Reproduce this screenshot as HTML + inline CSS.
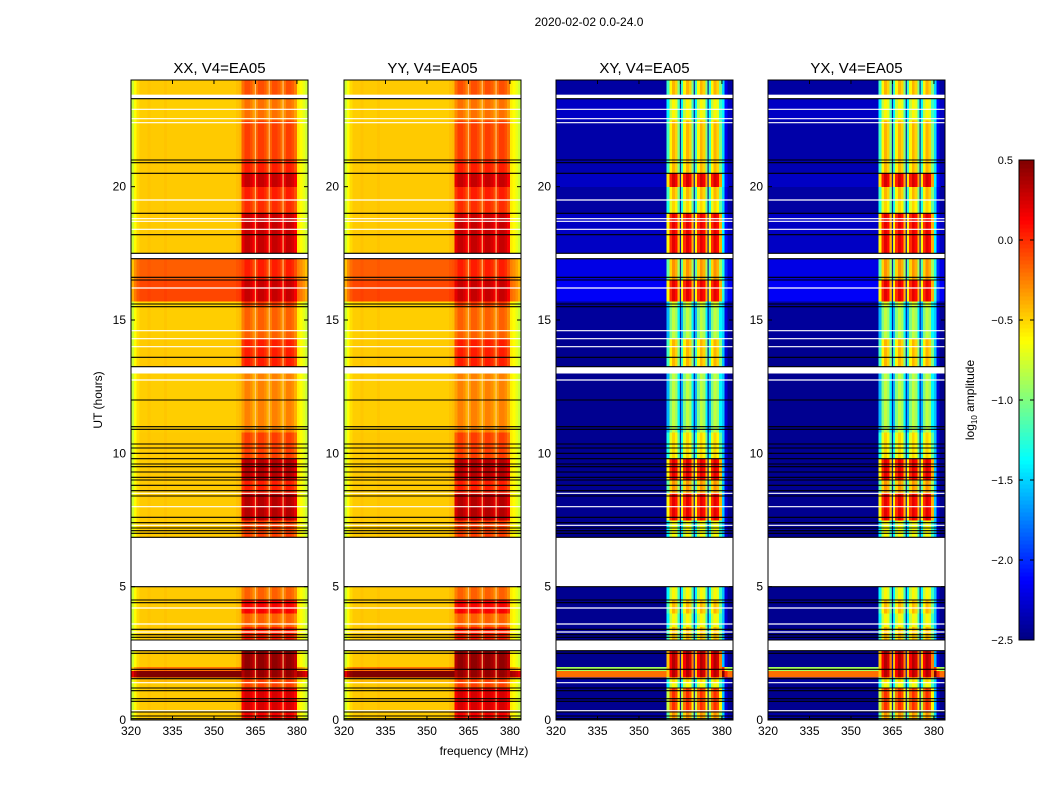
<!DOCTYPE html>
<html><head><meta charset="utf-8"><style>
body{margin:0;background:#fff;}
svg{display:block;font-family:"Liberation Sans",sans-serif;}
</style></head><body>
<svg id="fig" width="1050" height="800" viewBox="0 0 1050 800">
<text x="589" y="26" font-size="12" text-anchor="middle">2020-02-02 0.0-24.0</text>
<text x="484" y="755" font-size="12" text-anchor="middle">frequency (MHz)</text>
<text x="0" y="0" font-size="12" text-anchor="middle" transform="translate(102,400) rotate(-90)">UT (hours)</text>
<text x="0" y="0" font-size="12" text-anchor="middle" transform="translate(974,400) rotate(-90)">log<tspan font-size="8" dy="3">10</tspan><tspan dy="-3"> amplitude</tspan></text>
<g id="panels"></g>
<g id="cbar"></g>
</svg>
<script>
// ---- data ----
const panelTitles = ["XX, V4=EA05","YY, V4=EA05","XY, V4=EA05","YX, V4=EA05"];
const panelKinds = ["par","par","cross","cross"];
const xTicks = [320,335,350,365,380];
const yTicks = [0,5,10,15,20];
const cbTicks = [0.5,0.0,-0.5,-1.0,-1.5,-2.0,-2.5];
const cbTickLabels = ["0.5","0.0","\u22120.5","\u22121.0","\u22121.5","\u22122.0","\u22122.5"];
// time segments (hours)
const segStart = [0,0.3,1.2,1.4,1.6,1.85,2.0,3.0,3.5,4.0,4.5,6.85,7.5,8.5,9.0,9.8,10.8,13.25,14.3,15.5,15.7,16.5,17.5,19.0,19.5,20.0,20.5,21.0,22.5,23.45];
const segEnd   = [0.3,1.2,1.4,1.6,1.85,2.0,2.6,3.5,4.0,4.5,5.0,7.5,8.5,9.0,9.8,10.8,13.0,14.3,15.5,15.7,16.5,17.3,19.0,19.5,20.0,20.5,21.0,22.5,23.3,24];
const parBase  = [-0.47,-0.47,-0.47,-0.42,0.5,-0.2,-0.47,-0.47,-0.47,-0.47,-0.47,-0.47,-0.47,-0.47,-0.47,-0.47,-0.48,-0.47,-0.48,-0.5,-0.08,-0.15,-0.47,-0.47,-0.47,-0.47,-0.47,-0.47,-0.48,-0.47];
const parBand  = [0.1,0.2,-0.1,-0.1,0.4,0.4,0.4,0.0,-0.2,0.1,-0.2,-0.1,0.3,0.0,0.3,-0.1,-0.3,0.0,-0.2,-0.1,0.25,0.0,0.25,-0.05,0.0,0.25,0.0,-0.1,-0.25,-0.15];
const crossBase= [-2.4,-2.45,-2.45,-2.4,-0.2,-0.9,-2.45,-2.45,-2.45,-2.45,-2.45,-2.45,-2.45,-2.45,-2.45,-2.45,-2.45,-2.45,-2.42,-2.4,-2.15,-2.2,-2.3,-2.4,-2.4,-2.3,-2.35,-2.38,-2.3,-2.4];
const crossBand= [-0.3,0.0,-0.6,-0.5,0.35,0.35,0.35,-0.4,-0.6,-0.4,-0.6,-0.6,0.2,-0.3,0.2,-0.5,-0.8,-0.4,-0.8,-0.7,0.2,-0.3,0.2,-0.5,-0.4,0.25,-0.4,-0.4,-0.6,-0.4];
// frequency columns (1 MHz bins from 320)
const parColOff = [-0.3,-0.15,-0.05,0,0,0,0.02,0,0,0, 0,0,0.02,0,0,0,0,0,0,0, 0,0,0,0,0,0,0,0,0,0, 0,0,0,0,0,0,0,0,0.03,0.05];
const parRightOff = [-0.1,-0.15,-0.22,-0.3];
const crossRightOff = [0.9,0.2,0,0];
const parBandOff = [-0.05,0.05,0.05,0,-0.1];
const crossBandOff = [-0.8,-0.2,0,-0.1,-0.6];
const flagStart = [2.6,5.0,13.0,17.3,23.3];
const flagEnd   = [3.0,6.85,13.25,17.5,23.45];
const blackLines = [0.05,0.15,0.3,0.7,0.8,1.1,1.2,1.55,1.9,2.5,2.6,3.0,3.1,3.2,3.4,4.4,4.5,5.0,6.85,7.0,7.1,7.2,7.4,7.6,8.4,8.6,8.8,9.0,9.1,9.3,9.5,9.6,9.8,10.0,10.2,10.35,10.9,11.0,12.0,13.25,13.6,15.5,15.6,16.5,16.6,17.3,17.5,18.2,19.0,20.5,20.9,21.0,23.3];
const whiteLines = [0.35,1.4,3.3,3.6,4.2,7.3,8.0,8.5,12.75,14.0,14.3,14.6,16.2,18.4,18.7,18.8,19.5,22.4,22.55,22.9];
const gapFreqs = [365,370,375];

// ---- layout ----
const panelX = [131,344,556,768], PW = 177, PT = 80, PB = 720;
const F0 = 320, F1 = 384, T0 = 0, T1 = 24, VMIN = -2.5, VMAX = 0.5;
const NS = "http://www.w3.org/2000/svg";
function mk(tag, attrs, parent){const e=document.createElementNS(NS,tag);for(const k in attrs)e.setAttribute(k,attrs[k]);parent.appendChild(e);return e;}
function jet(v){let t=(v-VMIN)/(VMAX-VMIN);t=Math.max(0,Math.min(1,t));
  const c=x=>Math.round(255*Math.max(0,Math.min(1,x)));
  return `rgb(${c(1.5-Math.abs(4*t-3))},${c(1.5-Math.abs(4*t-2))},${c(1.5-Math.abs(4*t-1))})`;}
const root = document.getElementById('panels');
panelX.forEach((px,p)=>{
  const xs = f => px + (f-F0)/(F1-F0)*PW;
  const ys = t => PB - (t-T0)/(T1-T0)*(PB-PT);
  const kind = panelKinds[p];
  const g = mk('g',{},root);
  
  
  const hm = mk('g',{'shape-rendering':'crispEdges'},g);
  
  
  for(let s=0;s<segStart.length;s++){
    const base = kind==='par'?parBase[s]:crossBase[s];
    const band = kind==='par'?parBand[s]:crossBand[s];
    for(let i=0;i<F1-F0;i++){
      const f=F0+i; let v;
      if(f<360) v = base + (kind==='par'?parColOff[i]:0);
      else if(f<380) v = band + (kind==='par'?parBandOff[(f-360)%5]:crossBandOff[(f-360)%5]);
      else v = base + (kind==='par'?parRightOff[f-380]:crossRightOff[f-380]);
      const r = mk('rect',{x:xs(f),y:ys(segEnd[s]),width:xs(f+1)-xs(f)+0.3,height:ys(segStart[s])-ys(segEnd[s])+0.3,fill:jet(v)},hm);
      
      
    }
  }
  gapFreqs.forEach(f=>{
    const l=mk('line',{x1:xs(f),x2:xs(f),y1:PT,y2:PB,stroke:kind==='par'?'rgba(255,205,130,0.85)':'rgba(0,0,160,0.9)','stroke-width':1.2},g);
    
    
  });
  flagStart.forEach((a,k)=>{
    const r=mk('rect',{x:px,y:ys(flagEnd[k]),width:PW,height:ys(a)-ys(flagEnd[k]),fill:'#fff'},g);
    
    
  });
  whiteLines.forEach(t=>{
    const l=mk('line',{x1:px,x2:px+PW,y1:ys(t),y2:ys(t),stroke:'#fff','stroke-width':1.2},g);
    
    
  });
  blackLines.forEach(t=>{
    const l=mk('line',{x1:px,x2:px+PW,y1:ys(t),y2:ys(t),stroke:'#000','stroke-width':1.1},g);
    
    
  });
  const fr=mk('rect',{x:px,y:PT,width:PW,height:PB-PT,fill:'none',stroke:'#000','stroke-width':1},g);
  
  
  const tt=mk('text',{x:px+PW/2,y:PT-7,'font-size':15,'text-anchor':'middle'},g);
  tt.textContent=panelTitles[p];
  
  
  xTicks.forEach(f=>{
    const x=xs(f);
    mk('line',{x1:x,x2:x,y1:PB,y2:PB-4,stroke:'#000'},g);
    mk('line',{x1:x,x2:x,y1:PT,y2:PT+4,stroke:'#000'},g);
    const t=mk('text',{x:x,y:PB+15,'font-size':12,'text-anchor':'middle'},g);
    t.textContent=f;
    
    
  });
  yTicks.forEach(h=>{
    const y=ys(h);
    mk('line',{x1:px,x2:px+4,y1:y,y2:y,stroke:'#000'},g);
    mk('line',{x1:px+PW,x2:px+PW-4,y1:y,y2:y,stroke:'#000'},g);
    const t=mk('text',{x:px-5,y:y+4,'font-size':12,'text-anchor':'end'},g);
    t.textContent=h;
    
    
  });
});
// colorbar
const cb=document.getElementById('cbar');
const CX=1019,CW=15,CT=160,CB=640;
const cys=v=>CB-(v-VMIN)/(VMAX-VMIN)*(CB-CT);
for(let k=0;k<120;k++){
  const v0=VMIN+k*(VMAX-VMIN)/120, v1=VMIN+(k+1)*(VMAX-VMIN)/120;
  mk('rect',{x:CX,y:cys(v1),width:CW,height:cys(v0)-cys(v1)+0.5,fill:jet((v0+v1)/2),'shape-rendering':'crispEdges'},cb);
}
mk('rect',{x:CX,y:CT,width:CW,height:CB-CT,fill:'none',stroke:'#000'},cb);
cbTicks.forEach((v,k)=>{
  const y=cys(v);
  mk('line',{x1:CX,x2:CX+4,y1:y,y2:y,stroke:'#000'},cb);
  mk('line',{x1:CX+CW,x2:CX+CW-4,y1:y,y2:y,stroke:'#000'},cb);
  const t=mk('text',{x:CX-6,y:y+4,'font-size':11,'text-anchor':'end'},cb);
  t.textContent=cbTickLabels[k];
  
  
});
</script>
</body></html>
